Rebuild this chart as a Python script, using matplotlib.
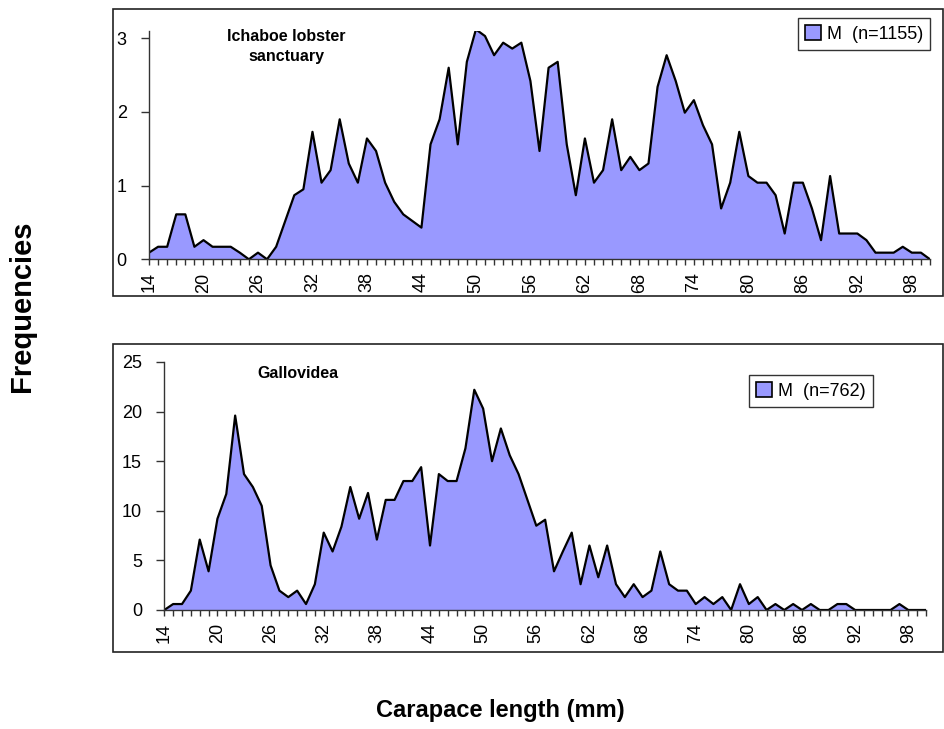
import matplotlib
matplotlib.use("Agg")
import matplotlib.pyplot as plt
from matplotlib.patches import Patch, Rectangle

plt.rcParams['font.family'] = ['Liberation Sans', 'DejaVu Sans']

# carapace length classes (mm)
lengths = list(range(14, 101))

# % frequency, Ichaboe lobster sanctuary, males (n=1155)
ichaboe = [0.09, 0.17, 0.17, 0.61, 0.61, 0.17, 0.26, 0.17, 0.17, 0.17,
           0.09, 0.0, 0.09, 0.0, 0.17, 0.52, 0.87, 0.95, 1.73, 1.04,
           1.21, 1.90, 1.30, 1.04, 1.64, 1.47, 1.04, 0.78, 0.61, 0.52,
           0.43, 1.56, 1.90, 2.60, 1.56, 2.68, 3.12, 3.03, 2.77, 2.94,
           2.86, 2.94, 2.42, 1.47, 2.60, 2.68, 1.56, 0.87, 1.64, 1.04,
           1.21, 1.90, 1.21, 1.39, 1.21, 1.30, 2.34, 2.77, 2.42, 1.99,
           2.16, 1.82, 1.56, 0.69, 1.04, 1.73, 1.13, 1.04, 1.04, 0.87,
           0.35, 1.04, 1.04, 0.69, 0.26, 1.13, 0.35, 0.35, 0.35, 0.26,
           0.09, 0.09, 0.09, 0.17, 0.09, 0.09, 0.0]

# % frequency, Gallovidea, males (n=762)
gallovidea = [0.0, 0.6, 0.6, 1.95, 7.1, 3.9, 9.2, 11.7, 19.6, 13.7,
              12.4, 10.5, 4.5, 1.95, 1.3, 1.95, 0.6, 2.6, 7.8, 5.9,
              8.4, 12.4, 9.2, 11.8, 7.1, 11.1, 11.1, 13.0, 13.0, 14.4,
              6.5, 13.7, 13.0, 13.0, 16.3, 22.2, 20.3, 15.0, 18.3, 15.6,
              13.7, 11.1, 8.5, 9.1, 3.9, 5.9, 7.8, 2.6, 6.5, 3.3,
              6.5, 2.6, 1.3, 2.6, 1.3, 1.95, 5.9, 2.6, 1.95, 1.95,
              0.6, 1.3, 0.6, 1.3, 0.0, 2.6, 0.6, 1.3, 0.0, 0.6,
              0.0, 0.6, 0.0, 0.6, 0.0, 0.0, 0.6, 0.6, 0.0, 0.0,
              0.0, 0.0, 0.0, 0.6, 0.0, 0.0, 0.0]

panels = [
    ("Ichaboe lobster\nsanctuary", ichaboe, "M  (n=1155)", [0, 1, 2, 3], 3.1),
    ("Gallovidea", gallovidea, "M  (n=762)", [0, 5, 10, 15, 20, 25], 25),
]

W, H = 944, 729
fill = '#9999ff'

fig = plt.figure(figsize=(W / 100, H / 100), dpi=100)

def px(x0, y0, x1, y1):
    # pixel box (top-left origin) -> figure fraction rect
    return [x0 / W, 1 - y1 / H, (x1 - x0) / W, (y1 - y0) / H]

# outer chart frames
for (x0, y0, x1, y1) in [(113, 9, 943, 296), (113, 344, 943, 652)]:
    r = px(x0, y0, x1, y1)
    fig.patches.append(Rectangle((r[0], r[1]), r[2], r[3], transform=fig.transFigure,
                                 fill=False, edgecolor='#222222', linewidth=1.2))

axes_boxes = [px(149, 30.9, 930, 259.3), px(164.3, 362, 926, 610)]
legend_pos = [(1.0, 1.056), (0.93, 0.948)]
title_pos = [(0.176, 1.01), (0.176, 0.985)]

for (title, vals, lab, yt, ymax), box, lp, tp in zip(panels, axes_boxes, legend_pos, title_pos):
    ax = fig.add_axes(box)
    ax.fill_between(lengths, vals, 0, color=fill, linewidth=0)
    ax.plot(lengths, vals, color='black', linewidth=1.6)
    ax.set_xlim(14, 100)
    ax.set_ylim(0, ymax)
    ax.set_yticks(yt)
    ax.set_xticks(lengths[::6])
    ax.set_xticks(lengths, minor=True)
    ax.set_xticklabels([str(v) for v in lengths[::6]], rotation=90)
    for s in ['top', 'right']:
        ax.spines[s].set_visible(False)
    for s in ['left', 'bottom']:
        ax.spines[s].set_color('#333333')
        ax.spines[s].set_linewidth(1.0)
    ax.tick_params(axis='y', length=6, width=1, color='#333333', labelsize=13, pad=10)
    ax.tick_params(axis='x', which='both', length=4.5, width=1, color='#333333',
                   labelsize=13, pad=5)
    ax.text(tp[0], tp[1], title, transform=ax.transAxes, ha='center', va='top',
            fontsize=11.5, fontweight='bold', linespacing=1.45)
    leg = ax.legend(handles=[Patch(facecolor=fill, edgecolor='black', linewidth=1.2, label=lab)],
                    loc='upper right', bbox_to_anchor=lp, fancybox=False, framealpha=1,
                    edgecolor='#333333', fontsize=13, handlelength=0.9, handleheight=0.9,
                    handletextpad=0.3, borderpad=0.4, borderaxespad=0)
    leg.get_frame().set_linewidth(1.0)

fig.text(22 / W, 1 - 306 / H, 'Frequencies', rotation=90, ha='center', va='center',
         fontsize=21, fontweight='bold')
fig.text(500 / W, 1 - 710 / H, 'Carapace length (mm)', ha='center', va='center',
         fontsize=17, fontweight='bold')

fig.savefig('out.png', dpi=100)
